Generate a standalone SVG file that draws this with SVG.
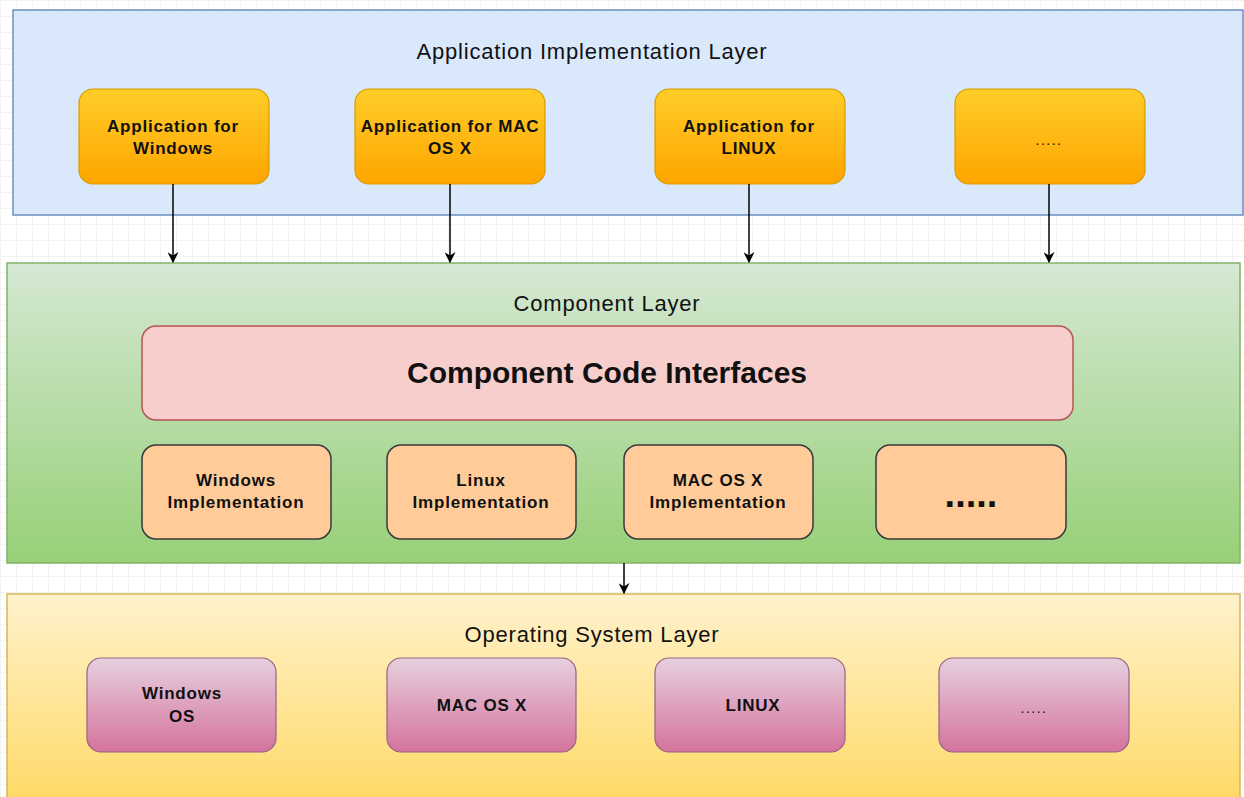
<svg xmlns="http://www.w3.org/2000/svg" width="1244" height="797" viewBox="0 0 1244 797">
<style>
text{font-family:"Liberation Sans",Arial,sans-serif;text-anchor:middle;fill:#111}
.title{font-size:22px;letter-spacing:0.8px}
.b{font-size:17px;font-weight:bold;letter-spacing:0.8px}
.app{fill:url(#gApp);stroke:#d79b00;stroke-width:1.2}
.impl{fill:#ffcc99;stroke:#36393d;stroke-width:1.5}
.os{fill:url(#gOs);stroke:#996185;stroke-width:1.2}
.conn{stroke:#000;stroke-width:1.5;fill:none;marker-end:url(#arr)}
.dots{font-size:14px;letter-spacing:1.5px}
</style>
<defs>
<pattern id="grid" width="16" height="16" patternUnits="userSpaceOnUse">
<path d="M16 0H0V16" fill="none" stroke="#e8e8e8" stroke-width="1"/>
</pattern>
<linearGradient id="gApp" x1="0" y1="0" x2="0" y2="1"><stop offset="0" stop-color="#ffcd28"/><stop offset="1" stop-color="#ffa500"/></linearGradient>
<linearGradient id="gGreen" x1="0" y1="0" x2="0" y2="1"><stop offset="0" stop-color="#d5e8d4"/><stop offset="1" stop-color="#97d077"/></linearGradient>
<linearGradient id="gYellow" x1="0" y1="0" x2="0" y2="1"><stop offset="0" stop-color="#fff2cc"/><stop offset="1" stop-color="#ffd966"/></linearGradient>
<linearGradient id="gOs" x1="0" y1="0" x2="0" y2="1"><stop offset="0" stop-color="#e6d0de"/><stop offset="1" stop-color="#d5739d"/></linearGradient>
<marker id="arr" viewBox="0 0 10 10" refX="9" refY="5" markerWidth="11" markerHeight="11" markerUnits="userSpaceOnUse" orient="auto">
<path d="M0 0L10 5L0 10L3 5Z" fill="#000"/>
</marker>
</defs>
<rect width="1244" height="797" fill="#fff"/>
<rect width="1244" height="797" fill="url(#grid)"/>

<g id="layer-app">
<rect x="13" y="10" width="1230" height="205" fill="#dae8fc" stroke="#6c8ebf" stroke-width="1.5"/>
<text class="title" x="592" y="59">Application Implementation Layer</text>
</g>
<g id="app-windows"><rect class="app" x="79" y="89" width="190" height="95" rx="14"/><text class="b" x="173" y="132">Application for</text><text class="b" x="173" y="154">Windows</text></g>
<g id="app-mac"><rect class="app" x="355" y="89" width="190" height="95" rx="14"/><text class="b" x="450" y="132">Application for MAC</text><text class="b" x="450" y="154">OS X</text></g>
<g id="app-linux"><rect class="app" x="655" y="89" width="190" height="95" rx="14"/><text class="b" x="749" y="132">Application for</text><text class="b" x="749" y="154">LINUX</text></g>
<g id="app-more"><rect class="app" x="955" y="89" width="190" height="95" rx="14"/><text class="dots" x="1049" y="145">.....</text></g>

<g id="layer-component">
<rect x="7" y="263" width="1233" height="300" fill="url(#gGreen)" stroke="#82b366" stroke-width="1.5"/>
<text class="title" x="607" y="311">Component Layer</text>
</g>
<g id="component-interfaces"><rect x="142" y="326" width="931" height="94" rx="14" fill="#f8cecc" stroke="#b85450" stroke-width="1.5"/><text x="607" y="383" style="font-size:30px;font-weight:bold">Component Code Interfaces</text></g>
<g id="impl-windows"><rect class="impl" x="142" y="445" width="189" height="94" rx="14"/><text class="b" x="236" y="486">Windows</text><text class="b" x="236" y="508">Implementation</text></g>
<g id="impl-linux"><rect class="impl" x="387" y="445" width="189" height="94" rx="14"/><text class="b" x="481" y="486">Linux</text><text class="b" x="481" y="508">Implementation</text></g>
<g id="impl-mac"><rect class="impl" x="624" y="445" width="189" height="94" rx="14"/><text class="b" x="718" y="486">MAC OS X</text><text class="b" x="718" y="508">Implementation</text></g>
<g id="impl-more"><rect class="impl" x="876" y="445" width="190" height="94" rx="14"/><text x="971" y="507" style="font-size:38px;font-weight:bold">.....</text></g>

<g id="layer-os">
<rect x="7" y="594" width="1233" height="210" fill="url(#gYellow)" stroke="#d6b656" stroke-width="1.5"/>
<text class="title" x="592" y="642">Operating System Layer</text>
</g>
<g id="os-windows"><rect class="os" x="87" y="658" width="189" height="94" rx="14"/><text class="b" x="182" y="699">Windows</text><text class="b" x="182" y="722">OS</text></g>
<g id="os-mac"><rect class="os" x="387" y="658" width="189" height="94" rx="14"/><text class="b" x="482" y="711">MAC OS X</text></g>
<g id="os-linux"><rect class="os" x="655" y="658" width="190" height="94" rx="14"/><text class="b" x="753" y="711">LINUX</text></g>
<g id="os-more"><rect class="os" x="939" y="658" width="190" height="94" rx="14"/><text class="dots" x="1034" y="713">.....</text></g>

<g id="connectors">
<path class="conn" d="M173 184V262"/>
<path class="conn" d="M450 184V262"/>
<path class="conn" d="M749 184V262"/>
<path class="conn" d="M1049 184V262"/>
<path class="conn" d="M624 563V593"/>
</g>
</svg>
